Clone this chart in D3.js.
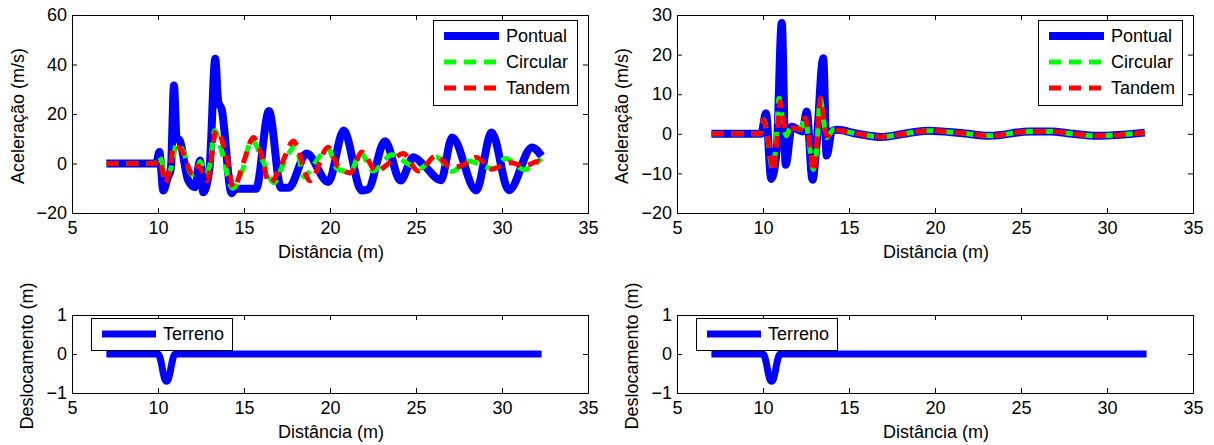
<!DOCTYPE html>
<html>
<head>
<meta charset="utf-8">
<script src="https://cdn.jsdelivr.net/npm/d3@7"></script>
<style>
  html, body { margin: 0; padding: 0; background: #fff; }
  svg { display: block; }
  text { font-family: "Liberation Sans", Arial, Helvetica, sans-serif; fill: #000; }
</style>
</head>
<body>
<svg id="chart" width="1214" height="445"></svg>
<script>
// ---------------- data ----------------
const xTicks = [5, 10, 15, 20, 25, 30, 35];
const accLeftTicks = [-20, 0, 20, 40, 60];
const accRightTicks = [-20, -10, 0, 10, 20, 30];
const deslTicks = [-1, 0, 1];

const seriesNames = ["Pontual", "Circular", "Tandem"];
const terrenoName = "Terreno";
const xLabel = "Distância (m)";
const accLabel = "Aceleração (m/s)";
const deslLabel = "Deslocamento (m)";

const pontualLeft = [[7,0],[9.9,0],[10.08,4.6],[10.31,-10.9],[10.55,-6],[10.75,-2],[10.93,31.5],[11.08,10.6],[11.28,9],[11.76,-6.9],[12.15,-9.6],[12.44,1.2],[12.63,-11.6],[13.0,-1.5],[13.33,42.3],[13.5,25],[13.7,22],[14.28,-12],[14.5,-10.2],[15.7,-10.2],[16.45,21.2],[17.15,-9.8],[17.6,-9.8],[18.64,4],[19.9,-7.5],[20.8,13.3],[21.84,-10.9],[22.2,-10.5],[23.2,9],[24.1,-6.9],[24.85,2.5],[25.5,-1],[26.45,-6.8],[27.1,10.5],[28.5,-10.8],[29.4,12.5],[30.4,-10.8],[31.75,6.5],[32.3,3]];
const circularLeft = [[7,0],[9.85,0],[10.02,3.2],[10.2,1],[10.45,-5],[10.75,-2],[11.1,8],[11.5,4.5],[11.95,-4.5],[12.2,-3.5],[12.45,0.8],[12.75,-4],[13.0,-1],[13.3,13.3],[13.7,5],[14.35,-10],[14.9,-3],[15.45,9.5],[16.1,1],[16.75,-7.8],[17.3,0],[18.0,7],[18.5,-5.5],[19.1,0],[19.9,6],[20.4,-2],[21.2,-3.5],[21.75,4.5],[22.5,-3],[23.6,3.5],[24.5,0],[25.2,-2],[26.2,2.5],[27.1,-3.2],[28.0,1],[29.5,-2],[30.2,2],[31.3,-2.5],[32.3,2]];
const tandemLeft = [[7,0],[9.85,0],[9.98,1.5],[10.15,0],[10.45,-8],[10.7,-1],[10.95,7],[11.3,6],[12.05,-4.5],[12.35,-1],[12.85,-7],[13.4,13.3],[14.0,2.5],[14.4,-9.8],[14.95,0],[15.55,10.5],[15.9,6],[16.5,-8],[17.2,0],[17.87,9],[18.84,-7],[19.9,6.6],[20.45,-1],[21.2,-3.8],[21.84,4.6],[22.7,-3],[23.5,0.5],[24.26,4],[25.13,-3],[26.2,3.2],[27.0,-1.5],[27.6,-1],[28.5,2.5],[29.4,-2.3],[30.5,0.3],[31.3,-1],[32.1,0.8],[32.3,0]];

const pontualRight = [[7,0],[9.9,0],[10.17,5.2],[10.48,-11.4],[10.8,-4],[11.09,28],[11.32,-7.8],[11.67,1.8],[12.05,1],[12.3,0.6],[12.54,5.6],[12.88,-11.6],[13.12,-2.4],[13.5,19.1],[13.7,-5.5],[14.0,0.6],[14.3,1],[15.5,0],[16.9,-0.8],[18.2,0],[19.6,0.8],[21.5,0.2],[23.2,-0.5],[25.5,0.6],[26.7,0.6],[28,0],[29.4,-0.5],[32.2,0.3]];
const circularRight = [[7,0],[9.85,0],[10.05,3.5],[10.3,-2],[10.55,-9],[10.75,-3],[10.93,9],[11.1,5],[11.35,-0.5],[11.6,1.5],[12.2,1.2],[12.45,4],[12.7,-3],[12.93,-9],[13.1,-5],[13.33,9],[13.5,4],[13.7,-1],[14.1,1],[14.5,0.8],[15.5,0],[16.9,-0.8],[18.2,0],[19.6,0.8],[21.5,0.2],[23.2,-0.5],[25.5,0.6],[26.7,0.6],[28,0],[29.4,-0.5],[32.2,0.3]];
const tandemRight = [[7,0],[9.85,0],[10.02,3.5],[10.35,-3],[10.6,-9.5],[10.8,-2],[11.0,8],[11.15,5],[11.3,1],[11.5,1.5],[12.2,1.2],[12.45,4],[12.75,-4],[12.95,-9.5],[13.1,-4],[13.35,9],[13.5,5],[13.65,0],[13.8,-0.5],[14.1,1],[14.5,0.8],[15.5,0],[16.9,-0.8],[18.2,0],[19.6,0.8],[21.5,0.2],[23.2,-0.5],[25.5,0.6],[26.7,0.6],[28,0],[29.4,-0.5],[32.2,0.3]];

const terreno = [[7,0],[10.0,0],[10.1,-0.07],[10.2,-0.25],[10.3,-0.48],[10.4,-0.65],[10.5,-0.7],[10.6,-0.65],[10.7,-0.48],[10.8,-0.25],[10.9,-0.07],[11.0,0],[32.3,0]];

// ---------------- drawing ----------------
const svg = d3.select("#chart");
const FONT = 18;
const fmt = d3.format("d");

const styles = {
  Pontual:  { color: "#0000ff", width: 8, dash: null },
  Circular: { color: "#00ff00", width: 5, dash: "12,8" },
  Tandem:   { color: "#ff0000", width: 5, dash: "12,8" },
  Terreno:  { color: "#0000ff", width: 7, dash: null }
};

function panel(cfg) {
  const x = d3.scaleLinear().domain([5, 35]).range([cfg.left, cfg.right]);
  const y = d3.scaleLinear().domain(cfg.yDomain).range([cfg.bottom, cfg.top]);
  const g = svg.append("g");

  const line = d3.line().x(d => x(d[0])).y(d => y(d[1])).curve(d3.curveMonotoneX);
  cfg.series.forEach(s => {
    const st = styles[s.name];
    g.append("path").attr("d", line(s.data))
      .attr("fill", "none").attr("stroke", st.color)
      .attr("stroke-width", st.width)
      .attr("stroke-dasharray", st.dash)
      .attr("stroke-linejoin", "round")
      .attr("stroke-linecap", "butt");
  });

  const ax = g.append("g").attr("class", "axes");
  const bottom = ax.append("g").attr("transform", `translate(0,${cfg.bottom})`)
    .call(d3.axisBottom(x).tickValues(xTicks).tickFormat(fmt).tickSizeInner(-5).tickSizeOuter(0).tickPadding(8));
  const top = ax.append("g").attr("transform", `translate(0,${cfg.top})`)
    .call(d3.axisTop(x).tickValues(xTicks).tickSizeInner(-5).tickSizeOuter(0).tickFormat(""));
  const left = ax.append("g").attr("transform", `translate(${cfg.left},0)`)
    .call(d3.axisLeft(y).tickValues(cfg.yTicks).tickFormat(fmt).tickSizeInner(-5).tickSizeOuter(0).tickPadding(5));
  const right = ax.append("g").attr("transform", `translate(${cfg.right},0)`)
    .call(d3.axisRight(y).tickValues(cfg.yTicks).tickSizeInner(-5).tickSizeOuter(0).tickFormat(""));
  [bottom, top, left, right].forEach(a => {
    a.select(".domain").remove();
    a.selectAll("line").attr("stroke", "#000").attr("stroke-width", 1);
    a.selectAll("text").attr("font-size", FONT).attr("font-family", null).style("fill", "#000");
  });
  ax.append("rect").attr("x", cfg.left + 0.5).attr("y", cfg.top + 0.5)
    .attr("width", cfg.right - cfg.left).attr("height", cfg.bottom - cfg.top)
    .attr("fill", "none").attr("stroke", "#000").attr("stroke-width", 1);

  g.append("text").attr("x", (cfg.left + cfg.right) / 2 + 1).attr("y", cfg.xLabelY)
    .attr("text-anchor", "middle").attr("dy", "0.35em").attr("font-size", FONT).text(xLabel);
  g.append("text").attr("transform", `translate(${cfg.yLabelX},${(cfg.top + cfg.bottom) / 2 + 2}) rotate(-90)`)
    .attr("text-anchor", "middle").attr("dy", "0.35em").attr("font-size", FONT).text(cfg.ylabel);

  const L = cfg.legend;
  const lg = g.append("g");
  lg.append("rect").attr("x", L.x + 0.5).attr("y", L.y + 0.5).attr("width", L.w).attr("height", L.h)
    .attr("fill", "#fff").attr("stroke", "#000").attr("stroke-width", 1);
  L.items.forEach((name, i) => {
    const st = styles[name];
    const yy = L.y + L.first + i * L.step;
    lg.append("line").attr("x1", L.x + L.lx0).attr("x2", L.x + L.lx1).attr("y1", yy).attr("y2", yy)
      .attr("stroke", st.color).attr("stroke-width", st.width).attr("stroke-dasharray", st.dash);
    lg.append("text").attr("x", L.x + L.tx).attr("y", yy).attr("dy", "0.35em")
      .attr("font-size", FONT).text(name);
  });
}

const legendTop = { w: 144, h: 85, first: 16, step: 26, lx0: 11, lx1: 66, tx: 73, items: seriesNames };
const legendBot = { w: 141, h: 32, first: 16, step: 0, lx0: 11, lx1: 65, tx: 72, items: [terrenoName] };

panel({ left: 72, right: 588, top: 15, bottom: 213, yDomain: [-20, 60], yTicks: accLeftTicks,
  ylabel: accLabel, yLabelX: 18, xLabelY: 252,
  series: [{ name: "Pontual", data: pontualLeft }, { name: "Circular", data: circularLeft }, { name: "Tandem", data: tandemLeft }],
  legend: Object.assign({ x: 433, y: 20 }, legendTop) });

panel({ left: 677, right: 1193, top: 15, bottom: 213, yDomain: [-20, 30], yTicks: accRightTicks,
  ylabel: accLabel, yLabelX: 622, xLabelY: 252,
  series: [{ name: "Pontual", data: pontualRight }, { name: "Circular", data: circularRight }, { name: "Tandem", data: tandemRight }],
  legend: Object.assign({ x: 1038, y: 20 }, legendTop) });

panel({ left: 72, right: 588, top: 315, bottom: 393, yDomain: [-1, 1], yTicks: deslTicks,
  ylabel: deslLabel, yLabelX: 27, xLabelY: 432,
  series: [{ name: "Terreno", data: terreno }],
  legend: Object.assign({ x: 91, y: 318 }, legendBot) });

panel({ left: 677, right: 1193, top: 315, bottom: 393, yDomain: [-1, 1], yTicks: deslTicks,
  ylabel: deslLabel, yLabelX: 632, xLabelY: 432,
  series: [{ name: "Terreno", data: terreno }],
  legend: Object.assign({ x: 696, y: 318 }, legendBot) });
</script>
</body>
</html>
